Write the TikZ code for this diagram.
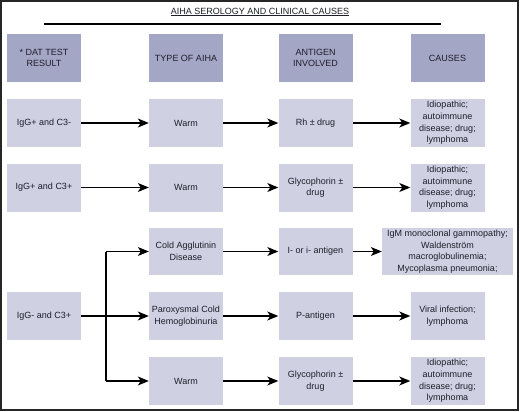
\documentclass[tikz,border=0pt]{standalone}
\usepackage{fontspec}
\setmainfont{Liberation Sans}
\usetikzlibrary{arrows.meta}
\definecolor{hdrfill}{HTML}{A4A6C6}
\definecolor{boxfill}{HTML}{CFD0E2}
\definecolor{txt}{HTML}{1E1E2A}
\tikzset{
  base/.style={minimum width=74pt, minimum height=48pt, inner sep=2pt, align=center,
    text=txt, font=\fontsize{9}{11.6}\selectfont},
  hdr/.style={base, fill=hdrfill},
  cell/.style={base, fill=boxfill},
  conn/.style={line width=1.2pt, -{Stealth[length=11pt,width=9pt,inset=3pt]}},
  seg/.style={line width=1.2pt}
}
\begin{document}
\begin{tikzpicture}[x=1pt,y=-1pt]
\useasboundingbox (0,0) rectangle (520,412);
\fill[white] (0,0) rectangle (520,412);
\draw[line width=1.5pt, black!85] (1,1) rectangle (518,410);

\node[text=txt, font=\fontsize{9}{11}\selectfont] (title) at (260,12) {\underline{AIHA SEROLOGY AND CLINICAL CAUSES}};
\coordinate (rl) at (44,24);
\coordinate (rr) at (441,24);
\draw[line width=1.5pt] (rl) -- (rr);

% header
\node[hdr] (h1) at (44,58) {* DAT TEST\\RESULT};
\node[hdr] (h2) at (186,58) {TYPE OF AIHA};
\node[hdr] (h3) at (315.5,58) {ANTIGEN\\INVOLVED};
\node[hdr] (h4) at (447.5,58) {CAUSES};

% row 1
\node[cell] (a1) at (44,123) {IgG+ and C3-};
\node[cell] (a2) at (186,123) {Warm};
\node[cell] (a3) at (315.5,123) {Rh ± drug};
\node[cell] (a4) at (447.5,123) {Idiopathic;\\autoimmune\\disease; drug;\\lymphoma};

% row 2
\node[cell] (b1) at (44,187.5) {IgG+ and C3+};
\node[cell] (b2) at (186,187.5) {Warm};
\node[cell] (b3) at (315.5,187.5) {Glycophorin ±\\drug};
\node[cell] (b4) at (447.5,187.5) {Idiopathic;\\autoimmune\\disease; drug;\\lymphoma};

% row 3
\node[cell, minimum height=47pt] (c2) at (186,251.5) {Cold Agglutinin\\Disease};
\node[cell, minimum height=47pt] (c3) at (315.5,251.5) {I- or i- antigen};
\node[cell, minimum width=131pt, minimum height=47pt] (c4) at (447.5,251.5) {IgM monoclonal gammopathy;\\Waldenström\\macroglobulinemia;\\Mycoplasma pneumonia;};

% row 4
\node[cell] (d1) at (44,316) {IgG- and C3+};
\node[cell] (d2) at (186,316) {Paroxysmal Cold\\Hemoglobinuria};
\node[cell] (d3) at (315.5,316) {P-antigen};
\node[cell] (d4) at (447.5,316) {Viral infection;\\lymphoma};

% row 5
\node[cell] (e2) at (186,381) {Warm};
\node[cell] (e3) at (315.5,381) {Glycophorin ±\\drug};
\node[cell] (e4) at (447.5,381) {Idiopathic;\\autoimmune\\disease; drug;\\lymphoma};

% connectors
\draw[conn] (a1) -- (a2);
\draw[conn] (a2) -- (a3);
\draw[conn] (a3) -- (a4);
\draw[conn] (b1) -- (b2);
\draw[conn] (b2) -- (b3);
\draw[conn] (b3) -- (b4);
\draw[conn] (c2) -- (c3);
\draw[conn] (c3) -- (c4);
\draw[conn] (d1) -- (d2);
\draw[conn] (d2) -- (d3);
\draw[conn] (d3) -- (d4);
\draw[conn] (e2) -- (e3);
\draw[conn] (e3) -- (e4);

\coordinate (jt) at (106,251.5);
\coordinate (jb) at (106,381);
\draw[seg] (jt) -- (jb);
\draw[conn] (jt) -- (c2);
\draw[conn] (jb) -- (e2);
\end{tikzpicture}
\end{document}
